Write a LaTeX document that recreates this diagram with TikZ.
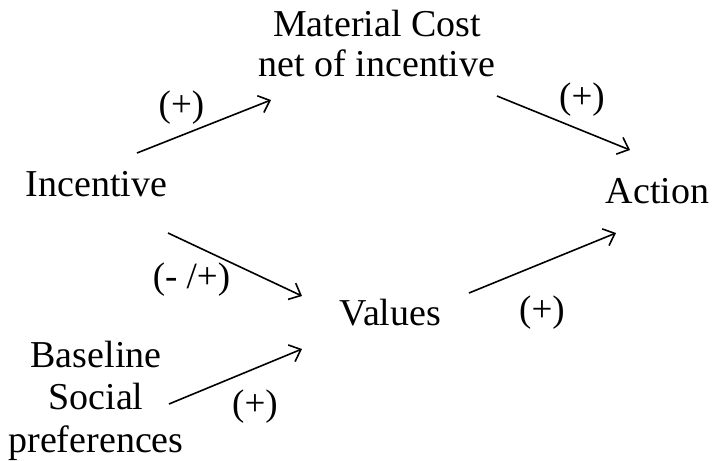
\documentclass[tikz,border=0pt]{standalone}
\usepackage{fontspec}
\setmainfont{Liberation Serif}
\usetikzlibrary{arrows.meta}
\tikzset{
  lbl/.style={inner sep=0pt, anchor=base, font=\fontsize{38}{38}\selectfont},
  sign/.style={inner sep=0pt, anchor=base, font=\fontsize{37}{36}\selectfont},
  link/.style={line width=1.6pt, -{Straight Barb[length=10pt,width=18pt,line width=1.6pt]}}
}
\begin{document}
\begin{tikzpicture}[x=1pt,y=-1pt]
\useasboundingbox (0,0) rectangle (713,461);
% nodes (base anchor of a multi-line node = last line's baseline)
\node[lbl, align=center, font=\fontsize{38}{40}\selectfont] (mat) at (377,76) {Material Cost\\net of incentive};
\node[lbl] (inc) at (96.5,196) {Incentive};
\node[lbl] (act) at (657.5,203) {Action};
\node[lbl] (val) at (390.5,325) {Values};
\node[lbl, align=center, font=\fontsize{38}{42.5}\selectfont] (base) at (96,452) {Baseline\\Social\\preferences};
% signs
\node[sign] (s1) at (181.5,116) {(+)};
\node[sign] (s2) at (582,108) {(+)};
\node[sign] (s3) at (191.5,288) {(- /+)};
\node[sign] (s4) at (542,321) {(+)};
\node[sign] (s5) at (255,415) {(+)};
% connector end points
\coordinate (incA) at (137,153);
\coordinate (matIn) at (271,100);
\coordinate (matOut) at (497,96);
\coordinate (actIn1) at (630,150);
\coordinate (incB) at (168,233);
\coordinate (valIn1) at (302,296);
\coordinate (valOut) at (469,293);
\coordinate (actIn2) at (616,233);
\coordinate (baseOut) at (169,404);
\coordinate (valIn2) at (302,349);
% connectors
\draw[link] (incA) -- (matIn);
\draw[link] (matOut) -- (actIn1);
\draw[link] (incB) -- (valIn1);
\draw[link] (valOut) -- (actIn2);
\draw[link] (baseOut) -- (valIn2);
\end{tikzpicture}
\end{document}
